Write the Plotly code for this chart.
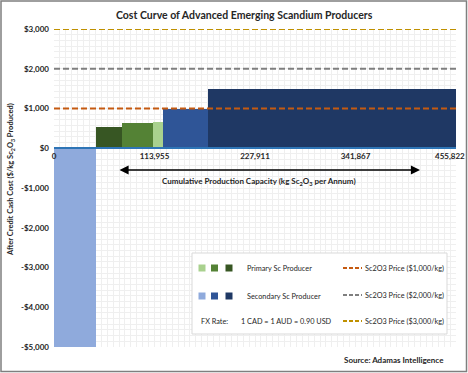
import numpy as np
import plotly.graph_objects as go

# ---------------- data ----------------
producer_type = ["Secondary", "Primary", "Primary", "Primary", "Secondary", "Secondary"]
capacity = [47600, 29500, 35200, 11300, 50500, 281722]
cash_cost = [-5000, 540, 630, 650, 1000, 1480]
bar_colors = ["#8FAADC", "#375623", "#548235", "#A9D18E", "#2F5597", "#1F3864"]

price_levels = [1000, 2000, 3000]
price_colors = ["#C55A11", "#7F7F7F", "#BF9000"]
price_labels = ["Sc2O3 Price ($1,000/kg)", "Sc2O3 Price ($2,000/kg)", "Sc2O3 Price ($3,000/kg)"]

x_ticks = [0, 113955, 227911, 341867, 455822]
x_tick_labels = ["0", "113,955", "227,911", "341,867", "455,822"]
y_ticks = [3000, 2000, 1000, 0, -1000, -2000, -3000, -4000, -5000]
y_tick_labels = ["$3,000", "$2,000", "$1,000", "$0", "-$1,000", "-$2,000", "-$3,000", "-$4,000", "-$5,000"]

primary_colors = ["#A9D18E", "#548235", "#375623"]
secondary_colors = ["#8FAADC", "#2F5597", "#1F3864"]

# ---------------- layout geometry ----------------
W, H = 468, 373
L, R, T, B = 54, 12, 29, 26
PW, PH = W - L - R, H - T - B
FONT = "Lato"
TXT = "#262626"
GRID = "#EFEFEF"


def px(x):
    return (x - L) / PW


def py(y):
    return (H - B - y) / PH


cap = np.array(capacity, dtype=float)
right_edges = np.cumsum(cap)
mids = right_edges - cap / 2
x_max = float(right_edges[-1])

fig = go.Figure()

fig.add_trace(go.Bar(
    x=mids, y=cash_cost, width=cap, base=0,
    marker=dict(color=bar_colors, line=dict(width=0)),
    hoverinfo="skip", showlegend=False,
))

for lvl, col in zip(price_levels, price_colors):
    fig.add_trace(go.Scatter(
        x=[0, x_max], y=[lvl, lvl], mode="lines",
        line=dict(color=col, width=1.8, dash="6px,3px"),
        hoverinfo="skip", showlegend=False,
    ))

shapes = []
annotations = []

# legend box
shapes.append(dict(type="rect", xref="paper", yref="paper",
                   x0=px(192), x1=px(447), y0=py(334), y1=py(253),
                   fillcolor="white", line=dict(color="#D9D9D9", width=1), layer="above"))
sq = 3.5
for xc, c in zip([202, 214.5, 229], primary_colors):
    shapes.append(dict(type="rect", xref="paper", yref="paper",
                       x0=px(xc - sq), x1=px(xc + sq), y0=py(268 + sq), y1=py(268 - sq),
                       fillcolor=c, line=dict(width=0), layer="above"))
for xc, c in zip([202, 214.5, 229], secondary_colors):
    shapes.append(dict(type="rect", xref="paper", yref="paper",
                       x0=px(xc - sq), x1=px(xc + sq), y0=py(296 + sq), y1=py(296 - sq),
                       fillcolor=c, line=dict(width=0), layer="above"))
for yy, col, lab in zip([268, 295, 321], price_colors, price_labels):
    shapes.append(dict(type="line", xref="paper", yref="paper",
                       x0=px(343), x1=px(362), y0=py(yy), y1=py(yy),
                       line=dict(color=col, width=1.8, dash="4px,2px"), layer="above"))
    annotations.append(dict(xref="paper", yref="paper", x=px(363), y=py(yy), text=lab,
                            showarrow=False, xanchor="left", yanchor="middle",
                            font=dict(family=FONT, size=7.3, color=TXT)))

annotations += [
    dict(xref="paper", yref="paper", x=px(245), y=py(268), text="Primary Sc Producer",
         showarrow=False, xanchor="left", yanchor="middle", font=dict(family=FONT, size=7.3, color=TXT)),
    dict(xref="paper", yref="paper", x=px(245), y=py(296), text="Secondary Sc Producer",
         showarrow=False, xanchor="left", yanchor="middle", font=dict(family=FONT, size=7.3, color=TXT)),
    dict(xref="paper", yref="paper", x=px(199), y=py(321), text="FX Rate:",
         showarrow=False, xanchor="left", yanchor="middle", font=dict(family=FONT, size=7.3, color=TXT)),
    dict(xref="paper", yref="paper", x=px(239), y=py(321), text="1 CAD = 1 AUD = 0.90 USD",
         showarrow=False, xanchor="left", yanchor="middle", font=dict(family=FONT, size=7.3, color=TXT)),
    dict(xref="paper", yref="paper", x=px(446), y=py(360), text="<b>Source: Adamas Intelligence</b>",
         showarrow=False, xanchor="right", yanchor="middle", font=dict(family=FONT, size=8, color=TXT)),
    dict(xref="paper", yref="paper", x=px(244), y=py(15),
         text="<b>Cost Curve of Advanced Emerging Scandium Producers</b>",
         showarrow=False, xanchor="center", yanchor="middle", font=dict(family=FONT, size=10.5, color=TXT)),
    dict(xref="paper", yref="paper", x=px(11), y=py(180), textangle=-90,
         text="<b>After Credit Cash Cost ($/kg Sc<sub>2</sub>O<sub>3</sub> Produced)</b>",
         showarrow=False, xanchor="center", yanchor="middle", font=dict(family=FONT, size=7.5, color=TXT)),
    dict(xref="paper", yref="paper", x=px(259), y=py(181),
         text="<b>Cumulative Production Capacity (kg Sc<sub>2</sub>O<sub>3</sub> per Annum)</b>",
         showarrow=False, xanchor="center", yanchor="middle", font=dict(family=FONT, size=8, color=TXT)),
    # double-headed arrow
    dict(xref="paper", yref="paper", axref="pixel", ayref="pixel",
         x=px(420), y=py(170), ax=-(420 - 118), ay=0, text="",
         showarrow=True, arrowhead=2, startarrowhead=2, arrowside="end+start",
         arrowsize=1.3, startarrowsize=1.3, arrowwidth=1.4, arrowcolor="#000000"),
]

# outer chart border
shapes.append(dict(type="rect", xref="paper", yref="paper",
                   x0=px(1), x1=px(466.5), y0=py(371.5), y1=py(1),
                   fillcolor="rgba(0,0,0,0)", line=dict(color="#7F7F7F", width=1.5), layer="above"))

fig.update_layout(
    width=W, height=H,
    margin=dict(l=L, r=R, t=T, b=B, autoexpand=False),
    paper_bgcolor="white", plot_bgcolor="white",
    bargap=0, showlegend=False,
    shapes=shapes, annotations=annotations,
    font=dict(family=FONT, size=8, color=TXT),
)

# last label padded so it sits inside the chart area, like the original
x_tick_text = ["<b>%s</b>" % t for t in x_tick_labels]
x_tick_text[-1] = x_tick_text[-1] + "&nbsp;" * 6

fig.update_xaxes(
    range=[0, x_max + 1], tickmode="array", tickvals=x_ticks, ticktext=x_tick_text,
    anchor="free", position=5000 / 8000, showline=True, linecolor="#2E75B6", linewidth=1.5,
    ticks="", tickfont=dict(family=FONT, size=8, color=TXT), ticklabeloverflow="allow",
    automargin=False,
    showgrid=True, gridcolor=GRID, gridwidth=0.6,
    minor=dict(dtick=113955 / 17, tick0=0, showgrid=True, gridcolor=GRID, gridwidth=0.6),
    zeroline=False, fixedrange=True,
)
fig.update_yaxes(
    range=[-5000, 3000], tickmode="array", tickvals=y_ticks,
    ticktext=["<b>%s</b>" % t for t in y_tick_labels],
    ticks="", tickfont=dict(family=FONT, size=8, color=TXT), automargin=False,
    ticklabelstandoff=4,
    showgrid=True, gridcolor=GRID, gridwidth=0.6,
    minor=dict(dtick=1000 / 7, tick0=0, showgrid=True, gridcolor=GRID, gridwidth=0.6),
    zeroline=False, showline=False, fixedrange=True,
)

fig.write_html(
    "out.html",
    config={"displayModeBar": False},
    post_script="document.body.style.margin='0';document.body.style.overflow='hidden';",
)
